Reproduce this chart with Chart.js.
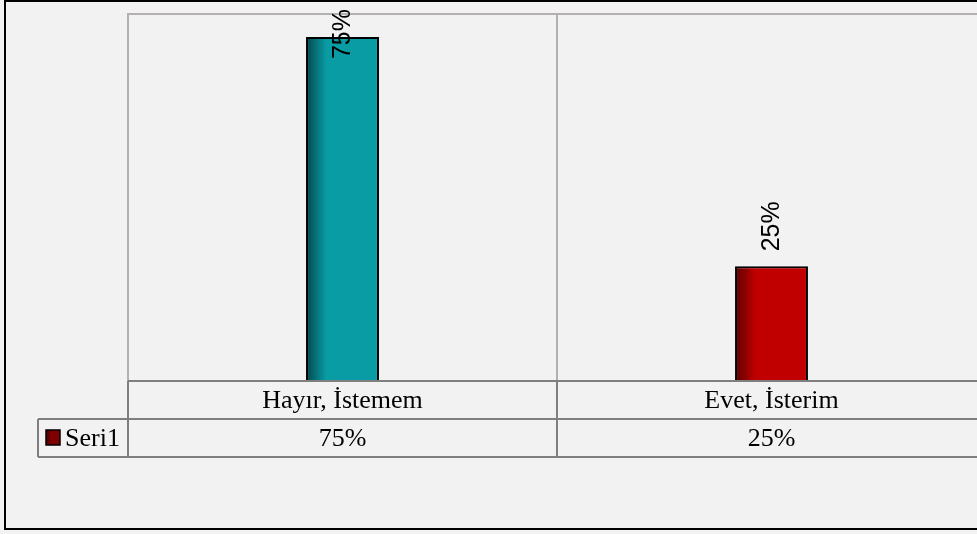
<!DOCTYPE html>
<html lang="tr">
<head>
<meta charset="UTF-8">
<title>Grafik</title>
<style>
  html, body { margin:0; padding:0; background:#f2f2f2; overflow:hidden; }
  #wrap { position:absolute; left:0; top:0; width:1000px; height:534px; }
</style>
</head>
<body>
<div id="wrap"><canvas id="myChart" width="1000" height="534"></canvas></div>

<script src="https://cdn.jsdelivr.net/npm/chart.js@4/dist/chart.umd.min.js"></script>
<script>
// veri
var categories = ['Hayır, İstemem', 'Evet, İsterim'];
var values = [75, 25];
var tableLabels = ['75%', '25%'];
var seriesName = 'Seri1';

var barColors = ['#099ca5', '#c00000'];
var barDark = ['#04474c', '#5a0000'];

function f_barFill(c){
    var chart = c.chart;
    var x = chart.scales.x;
    if (!x || !chart.chartArea) return barColors[c.dataIndex];
    var cx = x.getPixelForValue(c.dataIndex);
    var w = (chart.chartArea.right - chart.chartArea.left) / categories.length * 0.17;
    var g = chart.ctx.createLinearGradient(cx - w/2, 0, cx + w/2, 0);
    g.addColorStop(0, barDark[c.dataIndex]);
    g.addColorStop(0.28, barColors[c.dataIndex]);
    g.addColorStop(1, barColors[c.dataIndex]);
    return g;
}

// 배경, 격자, 데이터 표
const framePlugin = {
    id: 'frame',
    beforeDraw(chart){
        const c = chart.ctx, a = chart.chartArea, xs = chart.scales.x;
        c.save();
        c.fillStyle = '#f2f2f2';
        c.fillRect(0, 0, chart.width, chart.height);
        // outer border
        c.strokeStyle = '#000';
        c.lineWidth = 2;
        c.strokeRect(5, 1, chart.width + 20, 528);
        // plot grid
        c.strokeStyle = '#b4b0b0';
        c.lineWidth = 2;
        c.beginPath();
        c.moveTo(a.left, a.bottom); c.lineTo(a.left, a.top); c.lineTo(a.right, a.top);
        for (var i = 1; i < categories.length; i++){
            var gx = Math.round((xs.getPixelForValue(i-1) + xs.getPixelForValue(i)) / 2);
            c.moveTo(gx, a.top); c.lineTo(gx, a.bottom);
        }
        c.stroke();
        c.restore();
    },
    afterDraw(chart){
        const c = chart.ctx, a = chart.chartArea, xs = chart.scales.x;
        const meta = chart.getDatasetMeta(0);
        c.save();
        // bar labels, rotated
        c.font = '25px "Liberation Sans", Arial, sans-serif';
        c.fillStyle = '#000';
        c.textBaseline = 'middle';
        c.textAlign = 'left';
        meta.data.forEach(function(bar, i){
            var txt = values[i] + '%';
            var tw = c.measureText(txt).width;
            var bottom = bar.y - 15;
            if (bottom - tw < 9) bottom = 9 + tw;
            c.save();
            c.translate(bar.x + 1, bottom);
            c.rotate(-Math.PI/2);
            c.fillText(txt, 0, 0);
            c.restore();
        });

        // data table
        var r0 = a.bottom, r1 = 419, r2 = 457, keyLeft = 38;
        var bounds = [a.left];
        for (var i = 1; i < categories.length; i++){
            bounds.push(Math.round((xs.getPixelForValue(i-1) + xs.getPixelForValue(i)) / 2));
        }
        bounds.push(a.right);

        c.strokeStyle = '#7f7f7f';
        c.lineWidth = 2;
        c.beginPath();
        c.moveTo(a.left, r0); c.lineTo(chart.width, r0);
        c.moveTo(keyLeft, r1); c.lineTo(chart.width, r1);
        c.moveTo(keyLeft, r2); c.lineTo(chart.width, r2);
        c.moveTo(keyLeft, r1); c.lineTo(keyLeft, r2);
        for (var j = 0; j < bounds.length - 1; j++){
            c.moveTo(bounds[j], r0); c.lineTo(bounds[j], r2);
        }
        c.stroke();

        c.font = '26px "Liberation Serif", "Times New Roman", serif';
        c.fillStyle = '#000';
        c.textAlign = 'center';
        c.textBaseline = 'middle';
        categories.forEach(function(cat, i){
            var cx = xs.getPixelForValue(i);
            c.fillText(cat, cx, (r0 + r1) / 2 + 1);
            c.fillText(tableLabels[i], cx, (r1 + r2) / 2 + 1);
        });

        // legend key
        var kg = c.createLinearGradient(46, 0, 60, 0);
        kg.addColorStop(0, '#4a0000');
        kg.addColorStop(0.4, '#7f0000');
        kg.addColorStop(1, '#7f0000');
        c.fillStyle = kg;
        c.fillRect(46, 430, 14, 15);
        c.strokeStyle = '#000';
        c.lineWidth = 1.5;
        c.strokeRect(46, 430, 14, 15);
        c.fillStyle = '#000';
        c.textAlign = 'left';
        c.fillText(seriesName, 65, (r1 + r2) / 2 + 1);
        c.restore();
    }
};

const ctx = document.getElementById('myChart').getContext('2d');
const myChart = new Chart(ctx, {
    type: 'bar',
    data: {
        labels: categories,
        datasets: [{
            label: seriesName,
            data: values,
            backgroundColor: f_barFill,
            borderColor: '#000',
            borderWidth: 2,
            barPercentage: 0.17,
            categoryPercentage: 1
        }]
    },
    options: {
        responsive: false,
        animation: false,
        layout: { padding: { left: 128, right: 14, top: 14, bottom: 153 } },
        plugins: { legend: { display: false }, tooltip: { enabled: false } },
        scales: {
            x: { display: false },
            y: { display: false, min: 0, max: 80 }
        }
    },
    plugins: [framePlugin]
});
</script>
</body>
</html>
